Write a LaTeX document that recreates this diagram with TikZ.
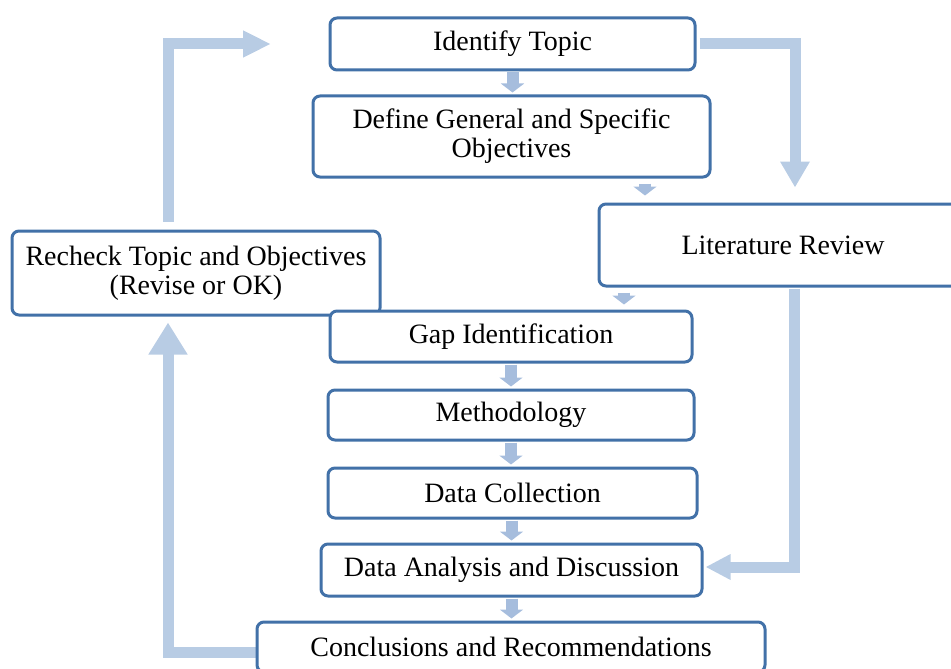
\documentclass[tikz,border=0pt]{standalone}
\usepackage{fontspec}
\setmainfont{Liberation Serif}
\usetikzlibrary{arrows.meta}
\definecolor{boxblue}{RGB}{66,113,168}
\definecolor{arrowblue}{RGB}{184,204,228}
\definecolor{smallblue}{RGB}{166,189,221}
\tikzset{
  stepbox/.style={draw=boxblue, line width=3pt, fill=white, rounded corners=7pt,
    inner sep=0pt, align=center, font=\fontsize{28}{29}\selectfont},
  bigarrow/.style={draw=arrowblue, line width=11pt},
  smallarrow/.style={draw=smallblue, line width=12pt,
    -{Triangle[width=23pt,length=9pt]}, shorten <=1pt, shorten >=2pt},
}
\begin{document}
\begin{tikzpicture}[x=1pt,y=-1pt]
\useasboundingbox (0,0) rectangle (951,669);
% coordinates for bends
\coordinate (lb) at (168,652);
\coordinate (lt) at (168,44);
\coordinate (tl) at (271,44);
\coordinate (rt) at (795,44);
\coordinate (rb) at (794,567);
\coordinate (xdl) at (645,0);
\coordinate (xlg) at (624,0);

% recheck box drawn before gap box (gap overlaps it)
\node[stepbox, minimum width=368pt, minimum height=84pt] (rch) at (196,273)
  {Recheck Topic and Objectives\\(Revise or OK)};

% big arrows
\draw[bigarrow, -{Triangle[width=37pt,length=32pt]}, shorten >=6pt]
  (511,652) -- (lb) -- (lb |- rch.south);
\draw[bigarrow, -{Triangle[width=25pt,length=28pt]}, shorten <=8pt]
  (lb |- rch.north) -- (lt) -- (tl);

\node[stepbox, minimum width=365pt, minimum height=52pt] (idt) at (512.5,44) {Identify Topic};
\node[stepbox, minimum width=397pt, minimum height=81pt] (def) at (511.5,136.5)
  {Define General and Specific\\Objectives};
\node[stepbox, minimum width=368pt, minimum height=82pt] (lit) at (783,245) {Literature Review};
\node[stepbox, minimum width=362pt, minimum height=51pt] (gap) at (511,336.5) {Gap Identification};
\node[stepbox, minimum width=366pt, minimum height=50pt] (met) at (511,415) {Methodology};
\node[stepbox, minimum width=369pt, minimum height=50pt] (dc) at (512.5,493) {Data Collection};
\node[stepbox, minimum width=381pt, minimum height=52pt] (da) at (511.5,570) {Data Analysis and Discussion};
\node[stepbox, minimum width=508pt, minimum height=50pt] (con) at (511,647) {Conclusions and Recommendations};

\draw[bigarrow, -{Triangle[width=28pt,length=26pt]}, shorten <=3pt, shorten >=15pt]
  (idt.east) -- (rt) -- (rt |- lit.north);
\draw[bigarrow, -{Triangle[width=24pt,length=25pt]}, shorten <=1pt, shorten >=2pt]
  (lit.south -| rb) -- (rb) -- (da.east |- rb);

% small arrows
\draw[smallarrow] (idt.south) -- (def.north -| idt.south);
\draw[smallarrow, shorten <=5pt, shorten >=7pt] (xdl |- def.south) -- (xdl |- lit.north);
\draw[smallarrow, shorten <=5pt, shorten >=5pt] (xlg |- lit.south) -- (xlg |- gap.north);
\draw[smallarrow] (gap.south) -- (met.north -| gap.south);
\draw[smallarrow] (met.south) -- (dc.north -| met.south);
\draw[smallarrow] (dc.south -| da.north) -- (da.north);
\draw[smallarrow] (da.south) -- (con.north -| da.south);
\end{tikzpicture}
\end{document}
